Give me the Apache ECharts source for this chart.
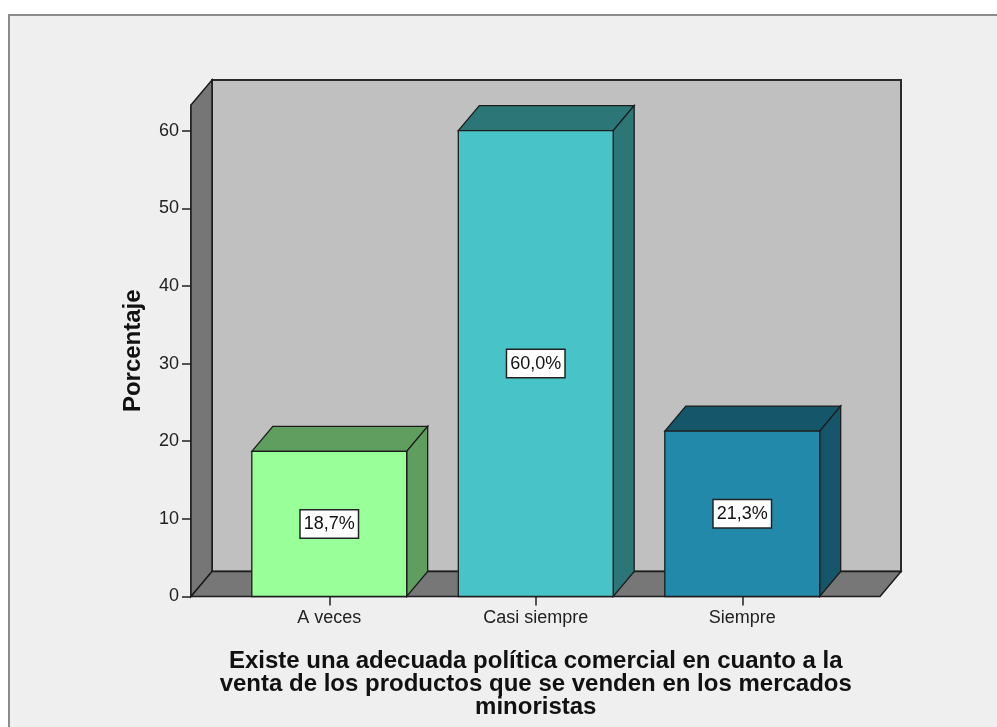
<!DOCTYPE html>
<html>
<head>
<meta charset="utf-8">
<style>
  html, body { margin: 0; padding: 0; background: #ffffff; }
  #chart { width: 997px; height: 727px; }
</style>
<script src="https://cdn.jsdelivr.net/npm/echarts@6/dist/echarts.min.js"></script>
</head>
<body>
<div id="chart"></div>
<script>
// Response categories and their share of respondents (%)
const categories = ['A veces', 'Casi siempre', 'Siempre'];
const percentages = [18.7, 60.0, 21.3];
const yTickValues = [0, 10, 20, 30, 40, 50, 60];

const yAxisTitle = 'Porcentaje';
const xAxisTitle = 'Existe una adecuada política comercial en cuanto a la\nventa de los productos que se venden en los mercados\nminoristas';

// Face colours for each bar: front face, then top/side shading
const frontColors = ['#99ff99', '#48c4c8', '#2389ab'];
const shadeColors = ['#5f9e5f', '#2c7678', '#16566a'];

// 3D look: depth offset of the back plane and wall overhang past the outer bands
const DEPTH_X = 21;
const DEPTH_Y = -25;
const WALL_PAD_L = 35;
const WALL_PAD_R = 34.5;
const EDGE = '#1c1c1c';
const FONT = '"Liberation Sans", Arial, sans-serif';

const chart = echarts.init(document.getElementById('chart'), null, { renderer: 'canvas' });

function fmtPct(v) {
  return v.toFixed(1).replace('.', ',') + '%';
}

// Back wall, side wall and floor of the 3D frame, built around the grid rectangle
function renderWalls(params, api) {
  const cs = params.coordSys;
  const xL = cs.x - WALL_PAD_L;
  const xR = cs.x + cs.width + WALL_PAD_R;
  const yT = cs.y;
  const yB = api.coord([0, 0])[1];
  const dx = DEPTH_X, dy = DEPTH_Y;
  return {
    type: 'group',
    children: [
      {
        type: 'rect',
        shape: { x: xL + dx, y: yT + dy, width: xR - xL, height: yB - yT },
        style: { fill: '#c0c0c0', stroke: '#2a2a2a', lineWidth: 2 }
      },
      {
        type: 'polygon',
        shape: { points: [[xL, yT], [xL + dx, yT + dy], [xL + dx, yB + dy], [xL, yB]] },
        style: { fill: '#767676', stroke: EDGE, lineWidth: 1.5 }
      },
      {
        type: 'polygon',
        shape: { points: [[xL, yB], [xL + dx, yB + dy], [xR + dx, yB + dy], [xR, yB]] },
        style: { fill: '#777777', stroke: EDGE, lineWidth: 1.5 }
      }
    ]
  };
}

// One 3D bar: front face, top face, right side face and a boxed value label
function renderBar(params, api) {
  const idx = params.dataIndex;
  const cat = api.value(0);
  const val = api.value(1);
  const base = api.coord([cat, 0]);
  const top = api.coord([cat, val]);
  const bw = api.size([1, 0])[0] * 0.75;
  const x0 = base[0] - bw / 2;
  const x1 = base[0] + bw / 2;
  const y0 = top[1];
  const y1 = base[1];
  const dx = DEPTH_X, dy = DEPTH_Y;
  return {
    type: 'group',
    children: [
      {
        type: 'polygon',
        shape: { points: [[x0, y0], [x0 + dx, y0 + dy], [x1 + dx, y0 + dy], [x1, y0]] },
        style: { fill: shadeColors[idx], stroke: EDGE, lineWidth: 1.3 }
      },
      {
        type: 'polygon',
        shape: { points: [[x1, y0], [x1 + dx, y0 + dy], [x1 + dx, y1 + dy], [x1, y1]] },
        style: { fill: shadeColors[idx], stroke: EDGE, lineWidth: 1.3 }
      },
      {
        type: 'rect',
        shape: { x: x0, y: y0, width: x1 - x0, height: y1 - y0 },
        style: { fill: frontColors[idx], stroke: EDGE, lineWidth: 1.3 }
      },
      {
        type: 'text',
        x: base[0],
        y: (y0 + y1) / 2,
        style: {
          text: fmtPct(val),
          align: 'center',
          verticalAlign: 'middle',
          fill: '#111',
          font: '18px ' + FONT,
          backgroundColor: '#ffffff',
          borderColor: '#222',
          borderWidth: 1.5,
          padding: [5, 3, 4, 3]
        }
      }
    ]
  };
}

const option = {
  animation: false,
  backgroundColor: '#ffffff',
  graphic: [
    {
      type: 'rect',
      left: 8,
      top: 14,
      shape: { width: 1000, height: 800 },
      style: { fill: '#efefef', stroke: '#8c8c8c', lineWidth: 2 },
      z: -10
    }
  ],
  grid: {
    left: 226,
    right: 151.5,
    top: 105,
    bottom: 130.5,
    containLabel: false
  },
  xAxis: {
    type: 'category',
    data: categories,
    boundaryGap: true,
    axisLine: { show: false },
    axisTick: { show: true, alignWithLabel: true, length: 9, lineStyle: { color: '#222', width: 1.5 } },
    axisLabel: { fontSize: 18, color: '#222', fontFamily: FONT, margin: 13 },
    splitLine: { show: false },
    name: xAxisTitle,
    nameLocation: 'middle',
    nameGap: 53,
    nameTextStyle: {
      fontSize: 24,
      fontWeight: 'bold',
      color: '#111',
      fontFamily: FONT,
      lineHeight: 23,
      align: 'center'
    }
  },
  yAxis: {
    type: 'value',
    min: 0,
    max: 63.3,
    offset: WALL_PAD_L,
    axisLine: { show: true, lineStyle: { color: '#1c1c1c', width: 1.5 } },
    axisTick: { show: true, length: 9, customValues: yTickValues, lineStyle: { color: '#222', width: 1.5 } },
    axisLabel: { fontSize: 18, color: '#222', fontFamily: FONT, margin: 12, customValues: yTickValues },
    splitLine: { show: false },
    name: yAxisTitle,
    nameLocation: 'middle',
    nameRotate: 90,
    nameGap: 46,
    nameTextStyle: { fontSize: 24, fontWeight: 'bold', color: '#111', fontFamily: FONT }
  },
  series: [
    {
      type: 'custom',
      name: 'frame',
      renderItem: renderWalls,
      data: [[0, 0]],
      clip: false,
      silent: true,
      z: 1
    },
    {
      type: 'custom',
      name: 'Porcentaje',
      renderItem: renderBar,
      encode: { x: 0, y: 1 },
      data: percentages.map((v, i) => [i, v]),
      clip: false,
      z: 2
    }
  ]
};

chart.setOption(option);
</script>
</body>
</html>
